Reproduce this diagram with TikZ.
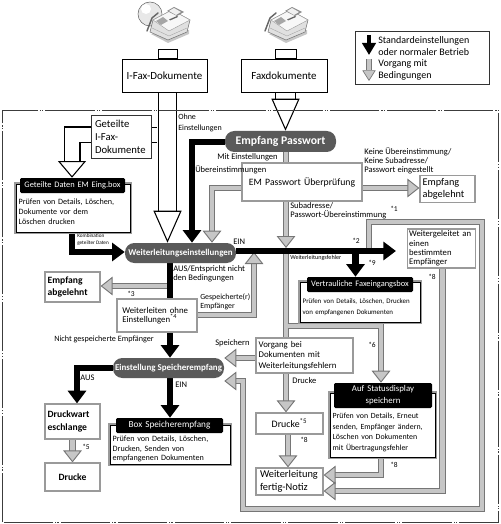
\documentclass[tikz,border=0pt]{standalone}
\usepackage{fontspec}
\setmainfont{Carlito}
\usetikzlibrary{arrows.meta,calc}
\pgfdeclarelayer{flows}
\pgfsetlayers{flows,main}

\definecolor{pilldark}{HTML}{5A5A5A}
\definecolor{flowedge}{HTML}{767676}
\definecolor{flowfill}{HTML}{C6C6C6}
\definecolor{boxedge}{HTML}{9A9A9A}
\definecolor{frameline}{HTML}{3C3C3C}

\newcommand{\fs}[2]{\fontsize{#1}{#2}\selectfont}

\tikzset{
  wh/.style 2 args={minimum width=#1*0.75pt, minimum height=#2*0.75pt,
    text width=#1*0.75pt-4pt, inner xsep=2pt, inner ysep=0pt},
  mainbox/.style={draw=black, fill=white, line width=0.7pt, align=center, font=\fs{8.2}{10.5}},
  stubbox/.style={draw=black, fill=white, line width=0.6pt, minimum height=8*0.75pt, anchor=south},
  greybox/.style={draw=boxedge, fill=white, line width=0.9pt, align=left, font=\fs{8.2}{10.2}},
  infobox/.style={draw=black, fill=white, line width=0.6pt, align=left, font=\fs{6.1}{7.5},
    preaction={draw=boxedge, line width=2.6pt}},
  boxhead/.style={fill=black, text=white, rounded corners=1pt, align=center, font=\fs{6.3}{8.6}},
  pill/.style={fill=pilldark, text=white, rounded corners=7pt, inner sep=0pt, align=center, font=\bfseries\fs{6.7}{8}},
  note/.style={inner sep=0pt, align=left, font=\fs{6.4}{6.8}},
  tiny/.style={inner sep=0pt, align=left, font=\fs{3.9}{5}},
  star/.style={inner sep=0pt, font=\fs{5.6}{6.5}},
  % block arrows
  blackflow/.style={line width=5.2pt, black, -{Triangle[length=9.5pt, width=13.5pt]}},
  greyflow/.style={line width=0.8pt, flowedge, double=flowfill, double distance=3.6pt,
    -{Triangle[length=9pt, width=14pt, fill=flowfill, line width=0.7pt]}},
  greyline/.style={line width=0.8pt, flowedge, double=flowfill, double distance=3.6pt},
  whiteflow/.style 2 args={line width=0.9pt, black, double=white, double distance=#1*0.75pt-1.8pt,
    -{Triangle[length=#2, width=21pt, fill=white, line width=0.8pt]}},
  whiteband/.style={line width=0.9pt, black, double=white, double distance=#1*0.75pt-1.8pt},
  legendblack/.style={line width=3.2pt, black, -{Triangle[length=9pt, width=10pt]}},
  legendgrey/.style={line width=0.6pt, flowedge, double=flowfill, double distance=3pt,
    -{Triangle[length=8pt, width=10pt, fill=flowfill, line width=0.5pt]}},
  % fax machine
  faxicon/.pic={
    \fill[black!22] (-2,26) -- (15,35) -- (36,26) -- (36,22) -- cycle;
    \draw[black!55, fill=black!12, line width=0.4pt] (0,12) -- (19,2) -- (37,12) -- (34,24) -- (15,32) -- (-3,24) -- cycle;
    \draw[black!40, fill=black!3, line width=0.3pt] (0,12) -- (19,2) -- (37,12) -- (16,23) -- cycle;
    \fill[black!45] (14,3) -- (21,-1) -- (31,4) -- (24,8) -- cycle;
    \fill[black!6] (16,3) -- (21,0) -- (28,4) -- (23,7) -- cycle;
    \draw[black!60, line width=1.1pt, line cap=round] (-6,23) -- (-1,10) -- (5,5);
    \fill[black!35] (3,13) -- (10,9) -- (15,13) -- (8,17) -- cycle;
    \fill[black!60] (16,11.5) -- (24,8) -- (25,9) -- (17,12.5) -- cycle;
    \draw[black!35, line width=0.3pt] (-1,20) -- (16,28) -- (34,20);
  }
}

\begin{document}
\begin{tikzpicture}[x=0.75pt, y=-0.75pt]
  \useasboundingbox (0,0) rectangle (500,524);

  % outer frame
  \draw[frameline, line width=0.6pt, dash pattern=on 37pt off 1.5pt on 0.9pt off 0.9pt on 0.9pt off 1.5pt]
    (2,522) -- (2,110) -- (498,110) -- (498,522) -- cycle;

  % icons
  \draw[black!60, fill=black!9, line width=0.4pt] (150,14) circle (12);
  \fill[white] (146,9) circle (5);
  \pic at (153,8) {faxicon};
  \pic at (271,8) {faxicon};

  % legend
  \node[draw=black!80, line width=0.7pt, minimum width=134*0.75pt, minimum height=53*0.75pt] (legendbox) at (422,57.5) {};
  \coordinate (legendA) at (369,35);
  \coordinate (legendB) at (369,55);
  \coordinate (legendC) at (369,59);
  \coordinate (legendD) at (369,81);
  \node[note, anchor=west, font=\fs{7.5}{9}] (legendtop) at (378,46) {Standardeinstellungen\\oder normaler Betrieb};
  \node[note, anchor=west, font=\fs{7.5}{9}] (legendbot) at (378,70) {Vorgang mit\\Bedingungen};

  % source boxes
  \node[mainbox, wh={85}{33}] (ifaxdoc) at (164.5,75.5) {I-Fax-Dokumente};
  \node[mainbox, wh={86}{33}] (faxdoc) at (284,75.5) {Faxdokumente};
  \node[stubbox, minimum width=19*0.75pt] (ifaxstub) at (167.5,59) {};
  \node[stubbox, minimum width=21*0.75pt] (faxstub) at (285.5,59) {};
  \node[draw=black!80, fill=white, line width=0.7pt, wh={60}{43}, align=left, font=\fs{8}{9.7}] (splitdoc) at (121,137) {\hspace*{1pt}Geteilte\\\hspace*{1pt}I-Fax-\\\hspace*{1pt}Dokumente};

  % pills
  \node[pill, minimum width=111*0.75pt, minimum height=21*0.75pt, font=\bfseries\fs{8.8}{9}] (pwpill) at (280.5,141.5) {Empfang Passwort};
  \node[pill, minimum width=111*0.75pt, minimum height=20*0.75pt] (fwdpill) at (180.5,253) {Weiterleitungseinstellungen};
  \node[pill, minimum width=111*0.75pt, minimum height=20*0.75pt] (memopill) at (168.5,368) {Einstellung Speicherempfang};

  % grey boxes
  \node[greybox, wh={120}{38}, align=center, font=\fs{7.3}{9}] (pwcheck) at (302,182) {EM Passwort Überprüfung};
  \node[greybox, wh={55}{27}, font=\fs{7.7}{9.2}] (rejectA) at (447.5,189) {Empfang\\abgelehnt};
  \node[greybox, wh={55}{30}, font=\bfseries\fs{7.2}{9.6}] (rejectB) at (72.5,287) {Empfang\\abgelehnt};
  \node[greybox, wh={67}{39}, text width=48.5pt, inner xsep=1pt, font=\fs{6.5}{7}] (onedest) at (441.5,248.5) {Weitergeleitet an\\einen\\bestimmten\\Empfänger};
  \node[greybox, wh={80}{33}, font=\fs{6.6}{7}] (nosetting) at (157,315.5) {\hspace*{2pt}Weiterleiten ohne\\\hspace*{2pt}Einstellungen\textsuperscript{*4}};
  \node[greybox, wh={97}{35}, font=\fs{6.6}{8.1}] (failjob) at (304.5,355.5) {Vorgang bei\\Dokumenten mit\\Weiterleitungsfehlern};
  \node[greybox, wh={67}{21}, align=center, font=\fs{7.4}{9}] (printA) at (289.5,423.5) {Drucke\textsuperscript{*5}};
  \node[greybox, wh={67}{27}, font=\fs{7.8}{9.6}] (donenote) at (289.5,481.5) {\hspace*{1pt}Weiterleitung\\\hspace*{1pt}fertig-Notiz};
  \node[greybox, wh={55}{35}, font=\bfseries\fs{7.2}{10.3}] (queue) at (72.5,421.5) {Druckwart\\eschlange};
  \node[greybox, wh={55}{28}, align=center, font=\bfseries\fs{7.2}{9}] (printB) at (72.5,477) {Drucke};

  % info boxes with black heads
  \node[infobox, wh={114}{48}] (splitbody) at (73,208) {\rule{0pt}{10pt}Prüfen von Details, Löschen,\\Dokumente vor dem\\Löschen drucken};
  \node[boxhead, wh={105}{15}] (splithead) at (72.5,185.5) {Geteilte Daten EM Eing.box};
  \node[infobox, wh={120}{40}, font=\fs{5.2}{8.2}] (confbody) at (360,302) {\rule{0pt}{11pt}Prüfen von Details, Löschen, Drucken\\von empfangenen Dokumenten};
  \node[boxhead, wh={106}{15}] (confhead) at (360,284.5) {Vertrauliche Faxeingangsbox};
  \node[infobox, wh={105}{64}, font=\fs{5.9}{7.9}] (statbody) at (382.5,425) {\rule{0pt}{15pt}Prüfen von Details, Erneut\\senden, Empfänger ändern,\\Löschen von Dokumenten\\mit Übertragungsfehler};
  \node[boxhead, wh={98}{25}, font=\fs{6.6}{8.8}] (stathead) at (383,395.5) {Auf Statusdisplay\\speichern};
  \node[infobox, wh={120}{39}, font=\fs{6.1}{7.1}] (membody) at (170,444.5) {\rule{0pt}{11pt}Prüfen von Details, Löschen,\\Drucken, Senden von\\empfangenen Dokumenten};
  \node[boxhead, wh={107}{15}, font=\fs{6.9}{8.6}] (memhead) at (169.5,425.5) {Box Speicherempfang};

  % junctions
  \coordinate (splitR) at (157,135);
  \coordinate (splitL) at (72,135);
  \coordinate (blackbend) at (192,142);
  \coordinate (pwtip) at (286,248);
  \coordinate (pwbend) at (212,188);
  \coordinate (rejAy) at (0,188);
  \coordinate (mainhit) at (286,251);
  \coordinate (mainend) at (396,251);
  \coordinate (confdrop) at (355.5,251);
  \coordinate (ringA) at (369,249);
  \coordinate (ringB) at (369,222);
  \coordinate (ringC) at (482,222);
  \coordinate (ringD) at (482,509);
  \coordinate (ringE) at (243,509);
  \coordinate (ringF) at (243,381);
  \coordinate (failbend) at (287.5,326);
  \coordinate (statbend) at (381,326);
  \coordinate (savedbend) at (254,315);
  \coordinate (savedhit) at (254,252);
  \coordinate (combbend) at (72,252);
  \coordinate (auslane) at (77,368);
  \coordinate (onedown) at (442.5,491);
  \coordinate (statdown) at (381,475);
  \coordinate (rejB) at (170,286);
  \coordinate (memoin) at (0,358);
  \coordinate (printdrop) at (288,0);
  \coordinate (fwddrop) at (170,0);

  \begin{pgfonlayer}{flows}
    % white document arrows
    \draw[whiteflow={19}{24pt}] (ifaxstub.south |- ifaxdoc.south) -- (fwdpill.north -| ifaxstub);
    \draw[whiteflow={17}{12.5pt}] (splitdoc.west |- splitL) -- (splitL) -- (splithead.north -| splitL);
    \draw[whiteband=16] (splitR) -- (splitdoc.east |- splitR);
    \draw[whiteflow={21}{24pt}] (faxstub.south |- faxdoc.south) -- (pwpill.north -| faxstub);

    % grey flows
    \draw[greyline] (pwpill.south -| mainhit) -- (pwcheck.north -| mainhit);
    \draw[greyflow] (pwcheck.east |- rejAy) -- (rejectA.west |- rejAy);
    \draw[greyflow] (pwcheck.west |- pwbend) -- (pwbend) -- (fwdpill.north -| pwbend);
    \draw[greyline] (mainhit) -- (failjob.north -| mainhit);
    \draw[greyflow] (pwcheck.south -| pwtip) -- (pwtip);
    \draw[greyflow] (failbend) -- (statbend) -- (stathead.north -| statbend);
    \draw[greyflow] (failjob.south -| mainhit) -- (printA.north -| mainhit);
    \draw[greyflow] (printA.south -| printdrop) -- (donenote.north -| printdrop);
    \draw[greyflow] (nosetting.east |- savedbend) -- (savedbend) -- (savedhit);
    \draw[greyflow] (failjob.west |- memoin) -- (memopill.east |- memoin);
    \draw[greyflow] (ringA) -- (ringB) -- (ringC) -- (ringD) -- (ringE) -- (ringF) -- (memopill.east |- ringF);
    \draw[greyflow] (onedest.south -| onedown) -- (onedown) -- (donenote.east |- onedown);
    \draw[greyflow] (statbody.south -| statdown) -- (statdown) -- (donenote.east |- statdown);
    \draw[greyflow] (rejB) -- (rejectB.east |- rejB);
    \draw[greyflow] (queue.south) -- (printB.north);

    % black flows on top
    \draw[blackflow] (pwpill.west |- blackbend) -- (blackbend) -- (fwdpill.north -| blackbend);
    \draw[blackflow] (fwdpill.east |- mainhit) -- (mainend);
    \draw[blackflow] (confdrop) -- (confhead.north -| confdrop);
    \draw[blackflow] (fwdpill.south -| fwddrop) -- (memopill.north -| fwddrop);
    \draw[blackflow] (splitbody.south -| combbend) -- (combbend) -- (fwdpill.west |- combbend);
    \draw[blackflow] (memopill.west |- auslane) -- (auslane) -- (queue.north -| auslane);
    \draw[blackflow] (memopill.south -| fwddrop) -- (memhead.north -| fwddrop);
    \draw[legendblack] (legendA) -- (legendB);
    \draw[legendgrey] (legendC) -- (legendD);
  \end{pgfonlayer}

  % labels
  \node[note, anchor=west, font=\fs{6}{8}] (lblOhne) at (178,123) {Ohne\\Einstellungen};
  \node[note, anchor=east] (lblMit) at (278,157.5) {Mit Einstellungen};
  \node[note, anchor=west] (lblUeb) at (195,169.5) {Übereinstimmungen};
  \node[note, anchor=west] (lblKeine) at (364,160.5) {Keine Übereinstimmung/\\Keine Subadresse/\\Passwort eingestellt};
  \node[note, anchor=west] (lblSub) at (290,211) {Subadresse/\\Passwort-Übereinstimmung};
  \node[star] (st1) at (394,209) {*1};
  \node[star] (st2) at (356,241) {*2};
  \node[note, anchor=west] (lblEin) at (233,241.5) {EIN};
  \node[tiny, anchor=west, font=\fs{4.6}{5}] (lblFehler) at (290,258) {Weiterleitungsfehler};
  \node[star] (st9) at (372,263) {*9};
  \node[star] (st8a) at (432,277) {*8};
  \node[tiny, anchor=west] (lblKomb) at (77,239.5) {Kombination\\geteilter Daten};
  \node[note, anchor=west] (lblAus) at (173,273.5) {AUS/Entspricht nicht\\den Bedingungen};
  \node[star] (st3) at (131,294) {*3};
  \node[note, anchor=west, font=\fs{5.9}{7}] (lblGesp) at (200,301.5) {Gespeicherte(r)\\Empfänger};
  \node[note, anchor=west, font=\fs{6.1}{7}] (lblNicht) at (54,339) {Nicht gespeicherte Empfänger};
  \node[note, anchor=west] (lblSpeich) at (215,343) {Speichern};
  \node[star] (st6) at (372,345) {*6};
  \node[note, anchor=west] (lblAusB) at (80,378) {AUS};
  \node[note, anchor=west] (lblEinB) at (175,385) {EIN};
  \node[note, anchor=west] (lblDruck) at (292,381) {Drucke};
  \node[star] (st5a) at (86,447) {*5};
  \node[star] (st8b) at (304,440) {*8};
  \node[star] (st8c) at (394,465) {*8};
\end{tikzpicture}
\end{document}
